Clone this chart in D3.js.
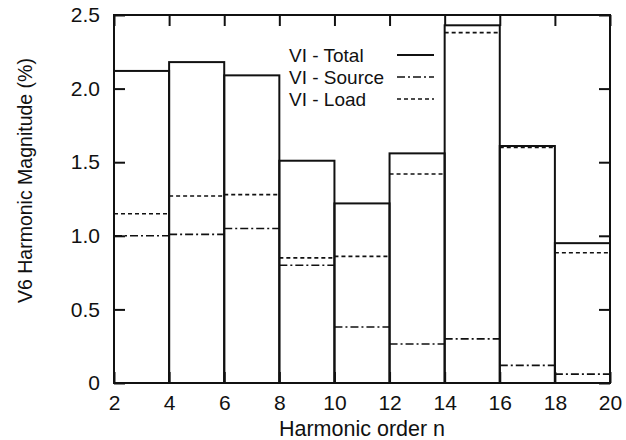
<!DOCTYPE html>
<html>
<head>
<meta charset="utf-8">
<script src="https://cdn.jsdelivr.net/npm/d3@7"></script>
<style>
  body { margin: 0; background: #fff; }
  text { font-family: "Liberation Sans", Arial, sans-serif; fill: #111; }
</style>
</head>
<body>
<div class="chart"></div>
<script>
// bins are harmonic order ranges: binEdges[i] .. binEdges[i+1]
const binEdges = [2, 4, 6, 8, 10, 12, 14, 16, 18, 20];
const totalVals = [2.12, 2.18, 2.09, 1.51, 1.22, 1.56, 2.43, 1.61, 0.95];
const sourceVals = [1.0, 1.01, 1.05, 0.8, 0.38, 0.265, 0.3, 0.12, 0.06];
const loadVals = [1.15, 1.27, 1.28, 0.85, 0.86, 1.42, 2.38, 1.6, 0.885];
const xTicks = [2, 4, 6, 8, 10, 12, 14, 16, 18, 20];
const yTicks = [0, 0.5, 1.0, 1.5, 2.0, 2.5];
const seriesNames = ["VI - Total", "VI - Source", "VI - Load"];

const margin = { top: 15, right: 16, bottom: 57, left: 114 };
const width = 626 - margin.left - margin.right,
  height = 440 - margin.top - margin.bottom;

const svg = d3
  .select(".chart")
  .append("svg")
  .attr("width", width + margin.left + margin.right)
  .attr("height", height + margin.top + margin.bottom)
  .append("g")
  .attr("transform", `translate(${margin.left}, ${margin.top})`);

const x = d3.scaleLinear().domain([2, 20]).range([0, width]);
const y = d3.scaleLinear().domain([0, 2.5]).range([height, 0]);

const dashes = { total: null, source: "8,3,2,3", load: "4,3" };

// bins as objects
const bins = totalVals.map((t, i) => ({
  x0: binEdges[i],
  x1: binEdges[i + 1],
  total: t,
  source: sourceVals[i],
  load: loadVals[i],
}));

// source and load levels (horizontal steps)
svg
  .selectAll(".load")
  .data(bins)
  .enter()
  .append("line")
  .attr("class", "load")
  .attr("x1", (d) => x(d.x0))
  .attr("x2", (d) => x(d.x1))
  .attr("y1", (d) => y(d.load))
  .attr("y2", (d) => y(d.load))
  .style("stroke", "#111")
  .style("stroke-width", 1.6)
  .style("stroke-dasharray", dashes.load);

svg
  .selectAll(".source")
  .data(bins)
  .enter()
  .append("line")
  .attr("class", "source")
  .attr("x1", (d) => x(d.x0))
  .attr("x2", (d) => x(d.x1))
  .attr("y1", (d) => y(d.source))
  .attr("y2", (d) => y(d.source))
  .style("stroke", "#111")
  .style("stroke-width", 1.6)
  .style("stroke-dasharray", dashes.source);

// total boxes
svg
  .selectAll(".bar")
  .data(bins)
  .enter()
  .append("rect")
  .attr("class", "bar")
  .attr("x", (d) => x(d.x0))
  .attr("y", (d) => y(d.total))
  .attr("width", (d) => x(d.x1) - x(d.x0))
  .attr("height", (d) => height - y(d.total))
  .style("fill", "none")
  .style("stroke", "#111")
  .style("stroke-width", 2);

// axes, ticks pointing inwards on all four sides
const fmt = (d) => (d === 0 ? "0" : d3.format(".1f")(d));

svg
  .append("g")
  .attr("class", "x-axis")
  .attr("transform", `translate(0, ${height})`)
  .call(d3.axisBottom(x).tickValues(xTicks).tickSizeInner(-11).tickSizeOuter(0).tickPadding(12).tickFormat((d) => d));

svg
  .append("g")
  .attr("class", "x-axis-top")
  .call(d3.axisTop(x).tickValues(xTicks).tickSizeInner(-11).tickSizeOuter(0).tickFormat(""));

svg
  .append("g")
  .attr("class", "y-axis")
  .call(d3.axisLeft(y).tickValues(yTicks).tickSizeInner(-11).tickSizeOuter(0).tickPadding(14).tickFormat(fmt));

svg
  .append("g")
  .attr("class", "y-axis-right")
  .attr("transform", `translate(${width}, 0)`)
  .call(d3.axisRight(y).tickValues(yTicks).tickSizeInner(-11).tickSizeOuter(0).tickFormat(""));

svg.selectAll(".domain").remove();
svg.selectAll(".tick line").style("stroke", "#111").style("stroke-width", 2);
svg.selectAll(".tick text").style("font-size", "21px").style("fill", "#111");

// frame
svg
  .append("rect")
  .attr("width", width)
  .attr("height", height)
  .style("fill", "none")
  .style("stroke", "#111")
  .style("stroke-width", 2);

// axis titles
svg
  .append("text")
  .attr("x", width / 2)
  .attr("y", height + 53)
  .style("text-anchor", "middle")
  .style("font-size", "21.5px")
  .text("Harmonic order n");

svg
  .append("text")
  .attr("transform", `translate(${32 - margin.left}, ${303 - margin.top}) rotate(-90)`)
  .style("text-anchor", "start")
  .style("font-size", "19.5px")
  .text("V6 Harmonic Magnitude (%)");

// legend
const legend = svg
  .append("g")
  .attr("class", "legend")
  .attr("transform", `translate(${289 - margin.left}, ${55 - margin.top})`);

const legendDash = [dashes.total, dashes.source, dashes.load];

seriesNames.forEach((name, i) => {
  legend
    .append("text")
    .attr("x", 0)
    .attr("y", i * 22)
    .attr("dy", "0.35em")
    .style("font-size", "19px")
    .text(name);
  legend
    .append("line")
    .attr("x1", 108)
    .attr("x2", 145)
    .attr("y1", i * 22)
    .attr("y2", i * 22)
    .style("stroke", "#111")
    .style("stroke-width", i === 0 ? 2 : 1.6)
    .style("stroke-dasharray", legendDash[i]);
});
</script>
</body>
</html>
